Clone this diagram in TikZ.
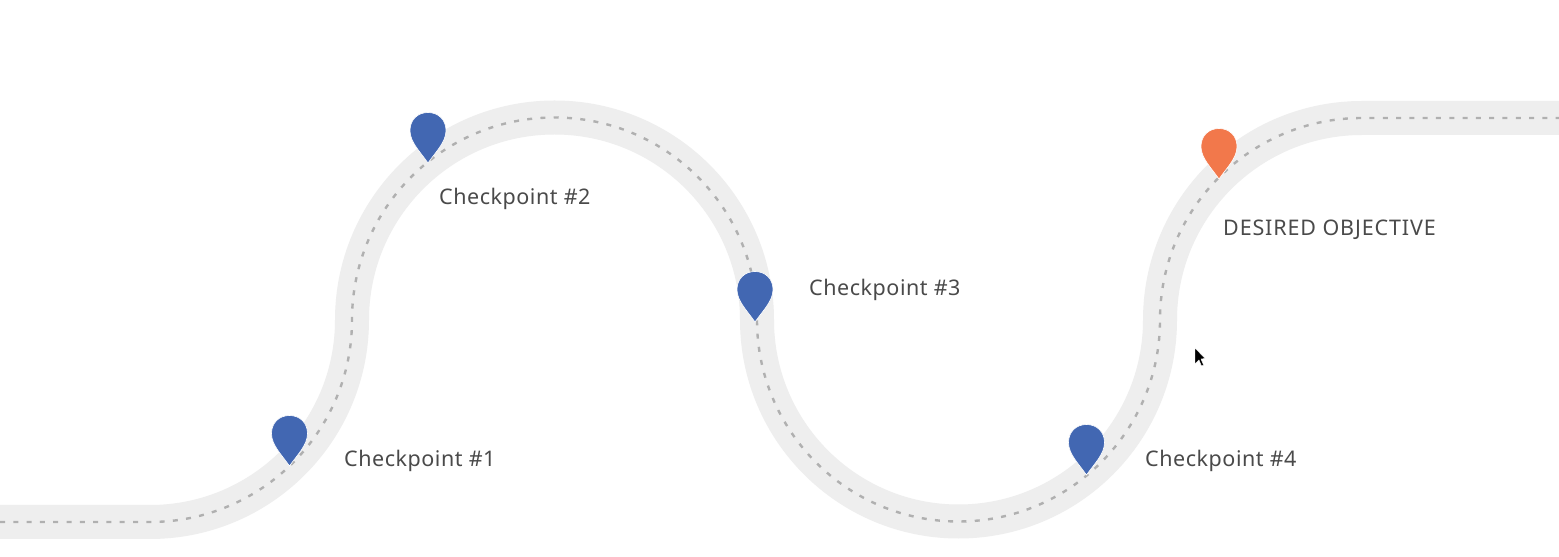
\documentclass[tikz,border=0pt]{standalone}
\usepackage{fontspec}
\setmainfont{Noto Sans}
\definecolor{roadc}{HTML}{EEEEEE}
\definecolor{dashc}{HTML}{B0B0B0}
\definecolor{pinblue}{HTML}{4267B2}
\definecolor{pinorange}{HTML}{F2784B}
\definecolor{labelc}{HTML}{4A4A4A}
\tikzset{
  x=1pt,y=1pt,
  road/.style={draw=roadc,line width=34pt,line cap=butt},
  centerline/.style={draw=dashc,line width=2.4pt,dash pattern=on 5pt off 8.3pt},
  lab/.style={text=labelc,font=\fontsize{21.5}{24}\selectfont\addfontfeatures{LetterSpace=2.5},anchor=base west,inner sep=0pt},
  capslab/.style={lab,font=\fontsize{21.5}{24}\selectfont\addfontfeatures{LetterSpace=4}},
  pin/.pic={
    \path[fill=#1,draw=white,line width=.6pt,line join=round] (0,0)
      .. controls (-8,11.5) and (-18,21) .. (-18,32.5)
      .. controls (-18,43.5) and (-10,50.5) .. (0,50.5)
      .. controls (10,50.5) and (18,43.5) .. (18,32.5)
      .. controls (18,21) and (8,11.5) .. (0,0) -- cycle;
  }
}
\newcommand{\roadpath}{(0,35) -- (150,35) arc[start angle=-90,end angle=0,radius=202]
  arc[start angle=180,end angle=0,radius=202.5]
  arc[start angle=180,end angle=360,radius=201.5]
  arc[start angle=180,end angle=90,radius=202] -- (1559,439)}
\begin{document}
\begin{tikzpicture}
\useasboundingbox (0,0) rectangle (1559,557);
\fill[white] (0,0) rectangle (1559,557);
\path[road] \roadpath;
\path[centerline] \roadpath;
\pic at (289.5,91) {pin=pinblue};
\pic at (428,394) {pin=pinblue};
\pic at (755,235) {pin=pinblue};
\pic at (1086.5,82) {pin=pinblue};
\pic at (1219,378) {pin=pinorange};
\node[lab] (c1) at (344,90.5) {Checkpoint \#1};
\node[lab] (c2) at (439,352.5) {Checkpoint \#2};
\node[lab] (c3) at (809,261.5) {Checkpoint \#3};
\node[lab] (c4) at (1145,90.5) {Checkpoint \#4};
\node[capslab] (obj) at (1223,321.5) {DESIRED OBJECTIVE};
\fill[black,draw=white,line width=.4pt] (1195,209) -- (1195,193) -- (1199,197) -- (1201.5,191) -- (1203.5,192) -- (1201,198) -- (1205,198.5) -- cycle;
\end{tikzpicture}
\end{document}
